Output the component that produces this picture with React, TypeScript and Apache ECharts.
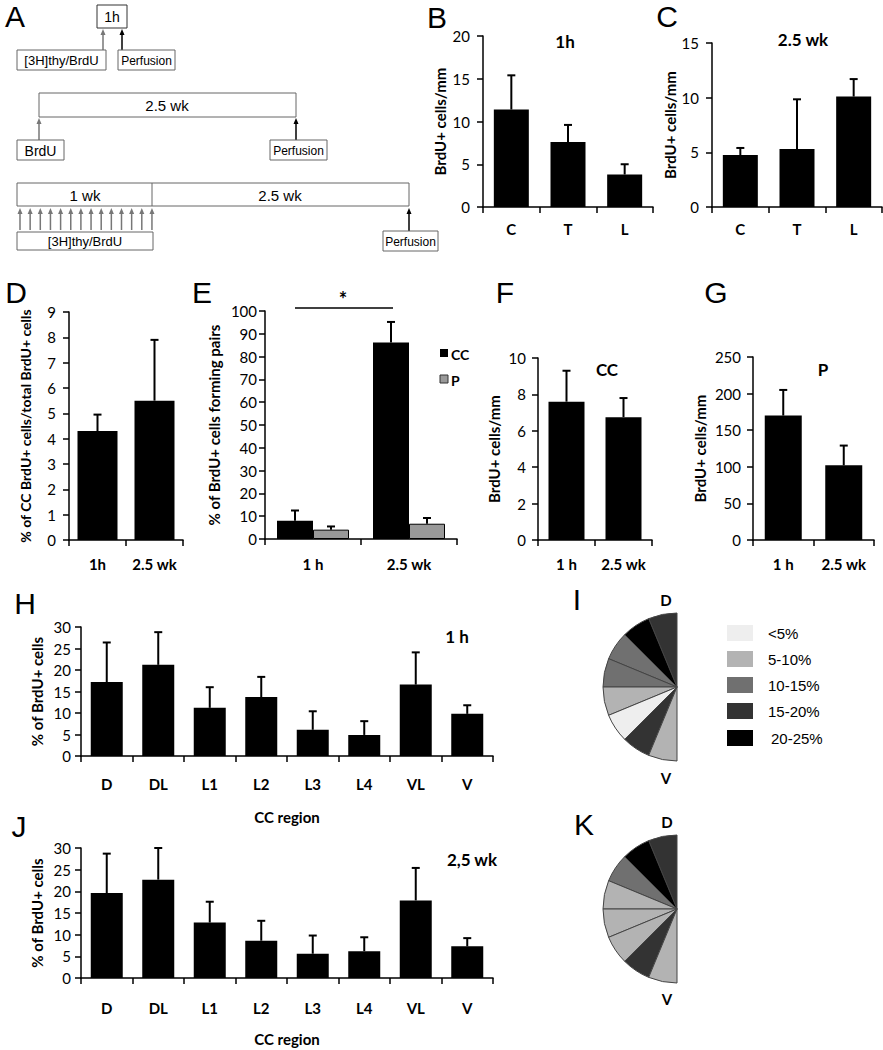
import React, { useEffect, useRef } from "react";
import * as echarts from "echarts";

const FONT = 'Lato, "Open Sans", sans-serif';
const ARIAL = '"Liberation Sans", Arial, sans-serif';

// ---------- data ----------
const bCats = ["C", "T", "L"];
const bMean = [11.4, 7.6, 3.8];
const bSem = [4.0, 2.0, 1.2];

const cCats = ["C", "T", "L"];
const cMean = [4.75, 5.3, 10.1];
const cSem = [0.65, 4.55, 1.6];

const dCats = ["1h", "2.5 wk"];
const dMean = [4.3, 5.5];
const dSem = [0.65, 2.4];

const eCats = ["1 h", "2.5 wk"];
const eCC = [8.0, 86.2];
const eCCSem = [4.5, 9.0];
const eP = [4.1, 6.7];
const ePSem = [1.4, 2.5];

const fCats = ["1 h", "2.5 wk"];
const fMean = [7.6, 6.75];
const fSem = [1.7, 1.05];

const gCats = ["1 h", "2.5 wk"];
const gMean = [170, 102];
const gSem = [35, 27];

const regions = ["D", "DL", "L1", "L2", "L3", "L4", "VL", "V"];
const hMean = [17.2, 21.2, 11.2, 13.7, 6.1, 4.9, 16.6, 9.8];
const hSem = [9.2, 7.6, 4.8, 4.7, 4.3, 3.2, 7.5, 2.0];
const jMean = [19.6, 22.7, 12.8, 8.6, 5.6, 6.2, 17.9, 7.3];
const jSem = [9.1, 7.3, 4.8, 4.6, 4.2, 3.2, 7.5, 1.9];

const classLabels = ["<5%", "5-10%", "10-15%", "15-20%", "20-25%"];
const classLimits = [5, 10, 15, 20];
const classColors = ["#eeeeee", "#b3b3b3", "#707070", "#333333", "#000000"];

function classColor(v: number) {
  let k = 0;
  while (k < classLimits.length && v >= classLimits[k]) k++;
  return classColors[k];
}

// ---------- panels ----------
type Panel = {
  grid: any;
  cats: string[];
  max: number;
  interval: number;
  name: string;
  nameGap: number;
  nameSize: number;
  yMargin: number;
  xMargin: number;
  xName?: string;
};

const panels: Panel[] = [
  { grid: { left: 483, top: 36, width: 170, height: 171 }, cats: bCats, max: 20, interval: 5, name: "BrdU+ cells/mm", nameGap: 36, nameSize: 15, yMargin: 13, xMargin: 14 },
  { grid: { left: 712, top: 43, width: 170, height: 164 }, cats: cCats, max: 15, interval: 5, name: "BrdU+ cells/mm", nameGap: 35, nameSize: 15, yMargin: 13, xMargin: 14 },
  { grid: { left: 69, top: 312, width: 114, height: 228 }, cats: dCats, max: 9, interval: 1, name: "% of CC BrdU+ cells/total BrdU+ cells", nameGap: 37, nameSize: 14, yMargin: 13, xMargin: 16 },
  { grid: { left: 265, top: 311, width: 192, height: 228 }, cats: eCats, max: 100, interval: 10, name: "% of BrdU+ cells forming pairs", nameGap: 44, nameSize: 15, yMargin: 8, xMargin: 17 },
  { grid: { left: 538, top: 358, width: 114, height: 182 }, cats: fCats, max: 10, interval: 2, name: "BrdU+ cells/mm", nameGap: 37, nameSize: 15, yMargin: 12, xMargin: 16 },
  { grid: { left: 753, top: 357, width: 121, height: 183 }, cats: gCats, max: 250, interval: 50, name: "BrdU+ cells/mm", nameGap: 46, nameSize: 15, yMargin: 12, xMargin: 16 },
  { grid: { left: 81, top: 627, width: 412, height: 129 }, cats: regions, max: 30, interval: 5, name: "% of BrdU+ cells", nameGap: 37, nameSize: 15, yMargin: 10, xMargin: 20, xName: "CC region" },
  { grid: { left: 81, top: 848, width: 412, height: 130 }, cats: regions, max: 30, interval: 5, name: "% of BrdU+ cells", nameGap: 37, nameSize: 15, yMargin: 10, xMargin: 22, xName: "CC region" },
];

function barSeries(idx: number, data: number[], width: number, color = "#000", extra: any = {}) {
  return {
    type: "bar",
    xAxisIndex: idx,
    yAxisIndex: idx,
    data,
    barWidth: width,
    itemStyle: { color, borderColor: "#000", borderWidth: color === "#000" ? 0 : 1 },
    silent: true,
    ...extra,
  };
}

function errSeries(idx: number, mean: number[], sem: number[], offsetPx = 0) {
  return {
    type: "custom",
    xAxisIndex: idx,
    yAxisIndex: idx,
    silent: true,
    z: 5,
    data: mean.map((m, i) => [i, m, m + sem[i]]),
    renderItem: (params: any, api: any) => {
      const i = api.value(0);
      const base = api.coord([i, api.value(1)]);
      const top = api.coord([i, api.value(2)]);
      const x = base[0] + offsetPx;
      return {
        type: "group",
        children: [
          { type: "line", shape: { x1: x, y1: base[1], x2: x, y2: top[1] }, style: { stroke: "#000", lineWidth: 2 } },
          { type: "line", shape: { x1: x - 4, y1: top[1], x2: x + 4, y2: top[1] }, style: { stroke: "#000", lineWidth: 2 } },
        ],
      };
    },
  };
}

function txt(x: number, y: number, text: string, font: string, align = "center", fill = "#000") {
  return {
    type: "text",
    x,
    y,
    silent: true,
    style: { text, font, fill, textAlign: align, textVerticalAlign: "middle", align, verticalAlign: "middle" },
  };
}

function box(x: number, y: number, w: number, h: number, stroke = "#666") {
  return { type: "rect", silent: true, shape: { x, y, width: w, height: h }, style: { fill: "#fff", stroke, lineWidth: 1 } };
}

function arrow(x: number, yFrom: number, yTo: number, color: string) {
  return [
    { type: "line", silent: true, shape: { x1: x, y1: yFrom, x2: x, y2: yTo + 4 }, style: { stroke: color, lineWidth: 1.5 } },
    { type: "polygon", silent: true, shape: { points: [[x - 2.5, yTo + 6], [x + 2.5, yTo + 6], [x, yTo]] }, style: { fill: color } },
  ];
}

function pieSeries(cy: number, values: number[]) {
  return {
    type: "pie",
    center: [677, cy],
    radius: 74,
    startAngle: 90,
    clockwise: false,
    silent: true,
    label: { show: false },
    labelLine: { show: false },
    emphasis: { disabled: true },
    data: [
      ...values.map((v, i) => ({ name: regions[i], value: 1, itemStyle: { color: classColor(v), borderColor: "#444", borderWidth: 1 } })),
      { name: "rest", value: regions.length, itemStyle: { color: "rgba(0,0,0,0)", borderWidth: 0 } },
    ],
  };
}

export default function App() {
  const ref = useRef<HTMLDivElement>(null);
  useEffect(() => {
    if (!ref.current) return;
    const chart = echarts.init(ref.current, undefined, { renderer: "svg" });

    const grid = panels.map((p) => ({ ...p.grid, containLabel: false }));
    const xAxis = panels.map((p, i) => ({
      type: "category",
      gridIndex: i,
      data: p.cats,
      axisLine: { lineStyle: { color: "#000", width: 1.5 } },
      axisTick: { show: true, length: 6, interval: 0, lineStyle: { color: "#000", width: 1.5 } },
      axisLabel: { color: "#000", fontFamily: FONT, fontWeight: "bold", fontSize: 15, margin: p.xMargin, interval: 0, hideOverlap: false },
      name: p.xName || "",
      nameLocation: "middle",
      nameGap: 53,
      nameTextStyle: { color: "#000", fontFamily: FONT, fontWeight: "bold", fontSize: 15 },
      splitLine: { show: false },
    }));
    const yAxis = panels.map((p, i) => ({
      type: "value",
      gridIndex: i,
      min: 0,
      max: p.max,
      interval: p.interval,
      axisLine: { show: true, lineStyle: { color: "#000", width: 1.5 } },
      axisTick: { show: true, length: 6, lineStyle: { color: "#000", width: 1.5 } },
      axisLabel: { color: "#000", fontFamily: FONT, fontSize: 15, margin: p.yMargin },
      splitLine: { show: false },
      name: p.name,
      nameLocation: "middle",
      nameRotate: 90,
      nameGap: p.nameGap,
      nameTextStyle: { color: "#000", fontFamily: FONT, fontWeight: "bold", fontSize: p.nameSize },
    }));

    const series: any[] = [
      barSeries(0, bMean, 35), errSeries(0, bMean, bSem),
      barSeries(1, cMean, 35), errSeries(1, cMean, cSem),
      barSeries(2, dMean, 40), errSeries(2, dMean, dSem),
      barSeries(3, eCC, 36, "#000", { barGap: "0%", name: "CC" }),
      barSeries(3, eP, 36, "#999999", { barGap: "0%", name: "P" }),
      errSeries(3, eCC, eCCSem, -18), errSeries(3, eP, ePSem, 18),
      barSeries(4, fMean, 36), errSeries(4, fMean, fSem),
      barSeries(5, gMean, 37), errSeries(5, gMean, gSem),
      barSeries(6, hMean, 32), errSeries(6, hMean, hSem),
      barSeries(7, jMean, 32), errSeries(7, jMean, jSem),
      pieSeries(687, hMean),
      pieSeries(909, jMean),
    ];

    const letterFont = `30px ${ARIAL}`;
    const titleFont = `bold 17px ${FONT}`;
    const boxFont = `13px ${ARIAL}`;
    const bigBoxFont = `15px ${ARIAL}`;

    const graphic: any[] = [
      // panel letters
      txt(15, 16, "A", letterFont), txt(437, 17, "B", letterFont), txt(667, 16, "C", letterFont),
      txt(16, 292, "D", letterFont), txt(202, 292, "E", letterFont), txt(505, 292, "F", letterFont),
      txt(716, 292, "G", letterFont), txt(25, 603, "H", letterFont), txt(577, 599, "I", letterFont),
      txt(19, 826, "J", letterFont), txt(584, 824, "K", letterFont),
      // titles
      txt(565, 41, "1h", titleFont), txt(803, 39, "2.5 wk", titleFont),
      txt(607, 369, "CC", titleFont), txt(823, 369, "P", titleFont),
      txt(457, 636, "1 h", titleFont), txt(472, 859, "2,5 wk", titleFont),
      // E significance
      { type: "line", silent: true, shape: { x1: 295, y1: 308, x2: 393, y2: 308 }, style: { stroke: "#000", lineWidth: 1.5 } },
      txt(343, 299, "*", `bold 20px ${FONT}`),
      // E legend
      { type: "rect", silent: true, shape: { x: 440, y: 349, width: 8, height: 8 }, style: { fill: "#000" } },
      txt(451, 354, "CC", `bold 14px ${FONT}`, "left"),
      { type: "rect", silent: true, shape: { x: 440, y: 375, width: 8, height: 8 }, style: { fill: "#999", stroke: "#333", lineWidth: 1 } },
      txt(451, 380, "P", `bold 14px ${FONT}`, "left"),
      // pie labels
      txt(666, 600, "D", `bold 15px ${FONT}`), txt(666, 778, "V", `bold 15px ${FONT}`),
      txt(667, 822, "D", `bold 15px ${FONT}`), txt(667, 999, "V", `bold 15px ${FONT}`),
      // I legend
      ...classLabels.flatMap((l, k) => [
        { type: "rect", silent: true, shape: { x: 727, y: [625, 651, 677, 703, 730][k], width: 26, height: 16 }, style: { fill: classColors[k] } },
        txt(k === 4 ? 771 : 768, [633, 659, 685, 711, 738][k], l, `15px ${ARIAL}`, "left"),
      ]),
      // ---------- panel A ----------
      box(97, 5, 30, 23, "#333"), txt(112, 17, "1h", `14px ${ARIAL}`),
      ...arrow(103, 50, 29, "#777"), ...arrow(122, 50, 29, "#000"),
      box(17, 50, 89, 20), txt(61.5, 60.5, "[3H]thy/BrdU", boxFont),
      box(118, 50, 57, 20), txt(146.5, 61, "Perfusion", `12px ${ARIAL}`),
      box(39, 93, 257, 24), txt(167, 105, "2.5 wk", bigBoxFont),
      ...arrow(39, 140, 118, "#777"), ...arrow(296, 140, 118, "#000"),
      box(17, 140, 47, 20), txt(40.5, 150.5, "BrdU", `14px ${ARIAL}`),
      box(270, 140, 57, 20), txt(298.5, 150.5, "Perfusion", `12px ${ARIAL}`),
      box(17, 183, 392, 23),
      { type: "line", silent: true, shape: { x1: 152, y1: 183, x2: 152, y2: 206 }, style: { stroke: "#666", lineWidth: 1 } },
      txt(85, 195, "1 wk", bigBoxFont), txt(280, 195, "2.5 wk", bigBoxFont),
      ...Array.from({ length: 14 }, (_, k) => arrow(20 + k * 10.15, 230, 208, "#777")).flat(),
      box(17, 232, 136, 18), txt(85, 241.5, "[3H]thy/BrdU", boxFont),
      ...arrow(409, 231, 208, "#000"),
      box(383, 231, 55, 20), txt(410.5, 241.5, "Perfusion", `12px ${ARIAL}`),
    ];

    chart.setOption({
      animation: false,
      backgroundColor: "#fff",
      grid,
      xAxis,
      yAxis,
      series,
      graphic,
    });
    return () => chart.dispose();
  }, []);

  return <div ref={ref} style={{ position: "absolute", left: 0, top: 0, width: 883, height: 1050 }} />;
}
